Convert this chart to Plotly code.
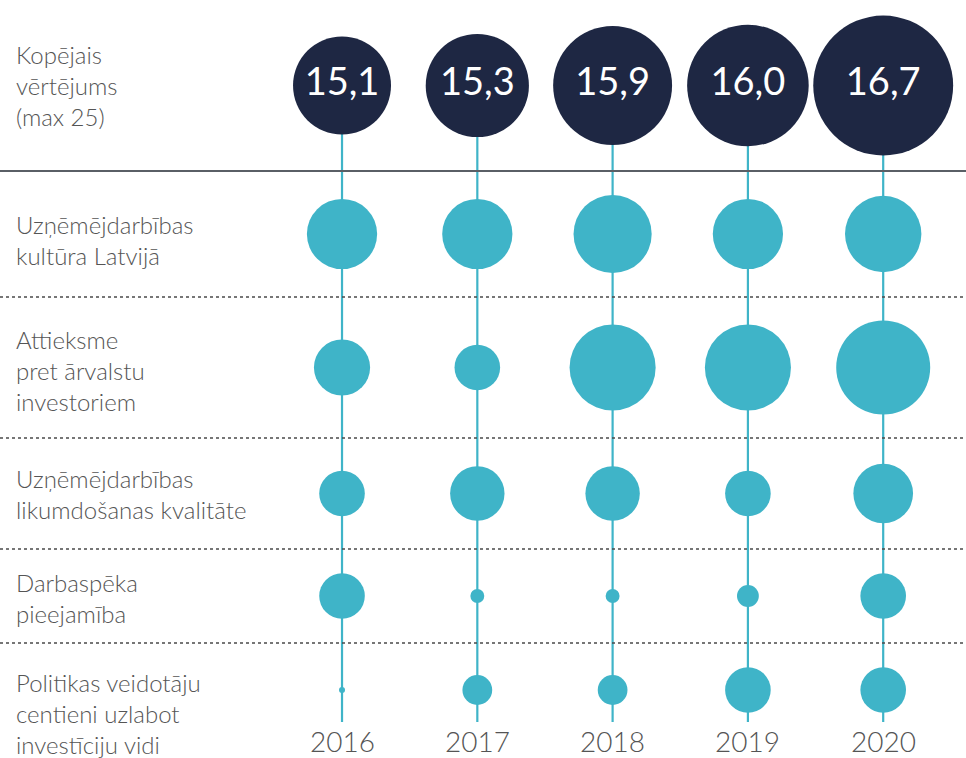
import plotly.graph_objects as go
from plotly.subplots import make_subplots

# ---------------- data ----------------
years = [2016, 2017, 2018, 2019, 2020]
total_label = "Kopējais<br>vērtējums<br>(max 25)"
total_scores = [15.1, 15.3, 15.9, 16.0, 16.7]

row_labels = [
    "Uzņēmējdarbības<br>kultūra Latvijā",
    "Attieksme<br>pret ārvalstu<br>investoriem",
    "Uzņēmējdarbības<br>likumdošanas kvalitāte",
    "Darbaspēka<br>pieejamība",
    "Politikas veidotāju<br>centieni uzlabot<br>investīciju vidi",
]
culture = [3.13, 3.13, 3.22, 3.13, 3.20]
attitude = [2.97, 2.85, 3.31, 3.31, 3.40]
legislation = [2.85, 2.95, 2.95, 2.85, 3.01]
labour = [2.85, 2.49, 2.49, 2.58, 2.85]
policy = [2.40, 2.67, 2.67, 2.85, 2.85]
sub_scores = [culture, attitude, legislation, labour, policy]

# ---------------- style / layout ----------------
W, H = 966, 758
NAVY = "#1e2743"
TEAL = "#3fb4c8"
GREY = "#555555"
FONT = "Lato"
band_heights = [171, 126, 141, 111, 94, 115]
last_row_range = [-1.447, 1]
label_shift = [0, -6, -3, 0, -2, -13]


def total_diam(v):
    return 2 * 13.1 * (v - 11.36)


def sub_diam(v):
    return 2 * (3 + (v - 2.4) * 44)


fig = make_subplots(rows=6, cols=1, shared_xaxes=True, vertical_spacing=0,
                    row_heights=band_heights)

fig.add_trace(go.Scatter(
    x=years, y=[0] * len(years), mode="markers+text",
    marker=dict(size=[total_diam(v) for v in total_scores], color=NAVY,
                opacity=1, line=dict(width=0)),
    text=[f"{v:.1f}".replace(".", ",") for v in total_scores],
    textposition="middle center",
    textfont=dict(family=FONT, size=38, color="white"),
    cliponaxis=False, hoverinfo="skip", showlegend=False), row=1, col=1)

for i, vals in enumerate(sub_scores):
    fig.add_trace(go.Scatter(
        x=years, y=[0] * len(years), mode="markers",
        marker=dict(size=[sub_diam(v) for v in vals], color=TEAL,
                    opacity=1, line=dict(width=0)),
        cliponaxis=False, hoverinfo="skip", showlegend=False), row=i + 2, col=1)

for r in range(1, 7):
    fig.update_xaxes(range=[2013.472, 2020.612], visible=False, row=r, col=1)
    fig.update_yaxes(range=last_row_range if r == 6 else [-1, 1],
                     visible=False, row=r, col=1)

shapes = []
# vertical teal stems
for yr in years:
    shapes.append(dict(type="line", xref="x", yref="paper", x0=yr, x1=yr,
                       y0=1 - 722 / H, y1=1 - 100 / H,
                       line=dict(color=TEAL, width=2.2), layer="below"))
# separators
for r in range(1, 6):
    yref = "y domain" if r == 1 else f"y{r} domain"
    if r == 1:
        line = dict(color="#5a5f66", width=2)
    else:
        line = dict(color="#4a4a4a", width=1.6, dash="dot")
    shapes.append(dict(type="line", xref="paper", yref=yref, x0=0, x1=1,
                       y0=0, y1=0, line=line, layer="below"))

annotations = []
all_labels = [total_label] + row_labels
for r, lab in enumerate(all_labels, start=1):
    yref = "y domain" if r == 1 else f"y{r} domain"
    annotations.append(dict(text=lab, xref="paper", yref=yref, x=14 / W,
                            y=0.5, xanchor="left", yanchor="middle",
                            align="left", showarrow=False,
                            yshift=label_shift[r - 1],
                            font=dict(family=FONT, size=24, color=GREY,
                                      weight=300)))
for yr in years:
    annotations.append(dict(text=str(yr), xref="x", yref="paper", x=yr,
                            y=1 - 741 / H, xanchor="center", yanchor="middle",
                            showarrow=False,
                            font=dict(family=FONT, size=28, color=GREY,
                                      weight=300)))

fig.update_layout(width=W, height=H, margin=dict(l=0, r=0, t=0, b=0),
                  paper_bgcolor="white", plot_bgcolor="rgba(0,0,0,0)",
                  shapes=shapes, annotations=annotations, showlegend=False)

fig.write_html("out.html", config={"displayModeBar": False},
               post_script="document.body.style.margin='0';")
